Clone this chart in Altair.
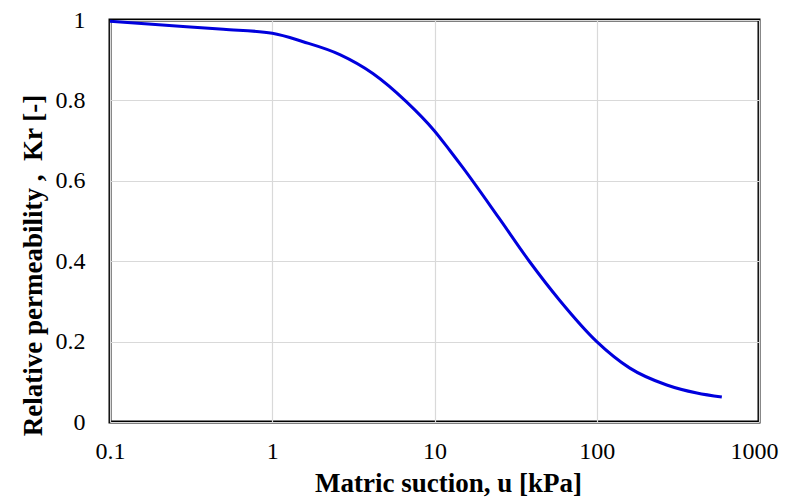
import altair as alt
import pandas as pd

suction = [0.1, 0.2, 0.5, 1, 1.55, 2.61, 4.17, 6.7, 10, 12.4, 15, 25, 38.7, 59, 100, 160, 270, 414, 590]
kr = [0.997, 0.988, 0.977, 0.967, 0.946, 0.914, 0.867, 0.797, 0.724, 0.676, 0.632, 0.507, 0.398, 0.303, 0.200, 0.134, 0.092, 0.072, 0.062]

x_ticks = [0.1, 1, 10, 100, 1000]
y_ticks = [0, 0.2, 0.4, 0.6, 0.8, 1]

df = pd.DataFrame({"u": suction, "kr": kr})

font = "Liberation Serif"

chart = alt.Chart(df).mark_line(color="#0000dd", strokeWidth=3, interpolate="monotone").encode(
    x=alt.X("u:Q",
            scale=alt.Scale(type="log", domain=[0.1, 1000]),
            axis=alt.Axis(values=x_ticks, format="~g", title="Matric suction, u [kPa]",
                          grid=True, gridColor="#d9d9d9", gridWidth=1.2,
                          ticks=False, domain=False, labelPadding=17, labelFlush=False,
                          labelOffset={"condition": {"test": "datum.value >= 1000", "value": -5}, "value": 0},
                          labelFont=font, labelFontSize=24, labelColor="black",
                          titleFont=font, titleFontSize=27, titleFontWeight="bold",
                          titleColor="black", titlePadding=7, titleX=338)),
    y=alt.Y("kr:Q",
            scale=alt.Scale(domain=[0, 1]),
            axis=alt.Axis(values=y_ticks, format="~g", title="Relative permeability ,\u00a0 Kr [-]",
                          grid=True, gridColor="#d9d9d9", gridWidth=1.2,
                          ticks=False, domain=False, labelPadding=25, labelFlush=False,
                          labelFont=font, labelFontSize=24, labelColor="black",
                          titleFont=font, titleFontSize=27, titleFontWeight="bold",
                          titleColor="black", titlePadding=8, titleY=245)),
).properties(
    width=649,
    height=402,
    background="white",
    autosize=alt.AutoSizeParams(type="none"),
    padding={"left": 102, "top": 12, "right": 22, "bottom": 82},
).configure_view(
    stroke="black", strokeWidth=3
)

chart.save("out.html", embed_options={"renderer": "svg", "actions": False})
